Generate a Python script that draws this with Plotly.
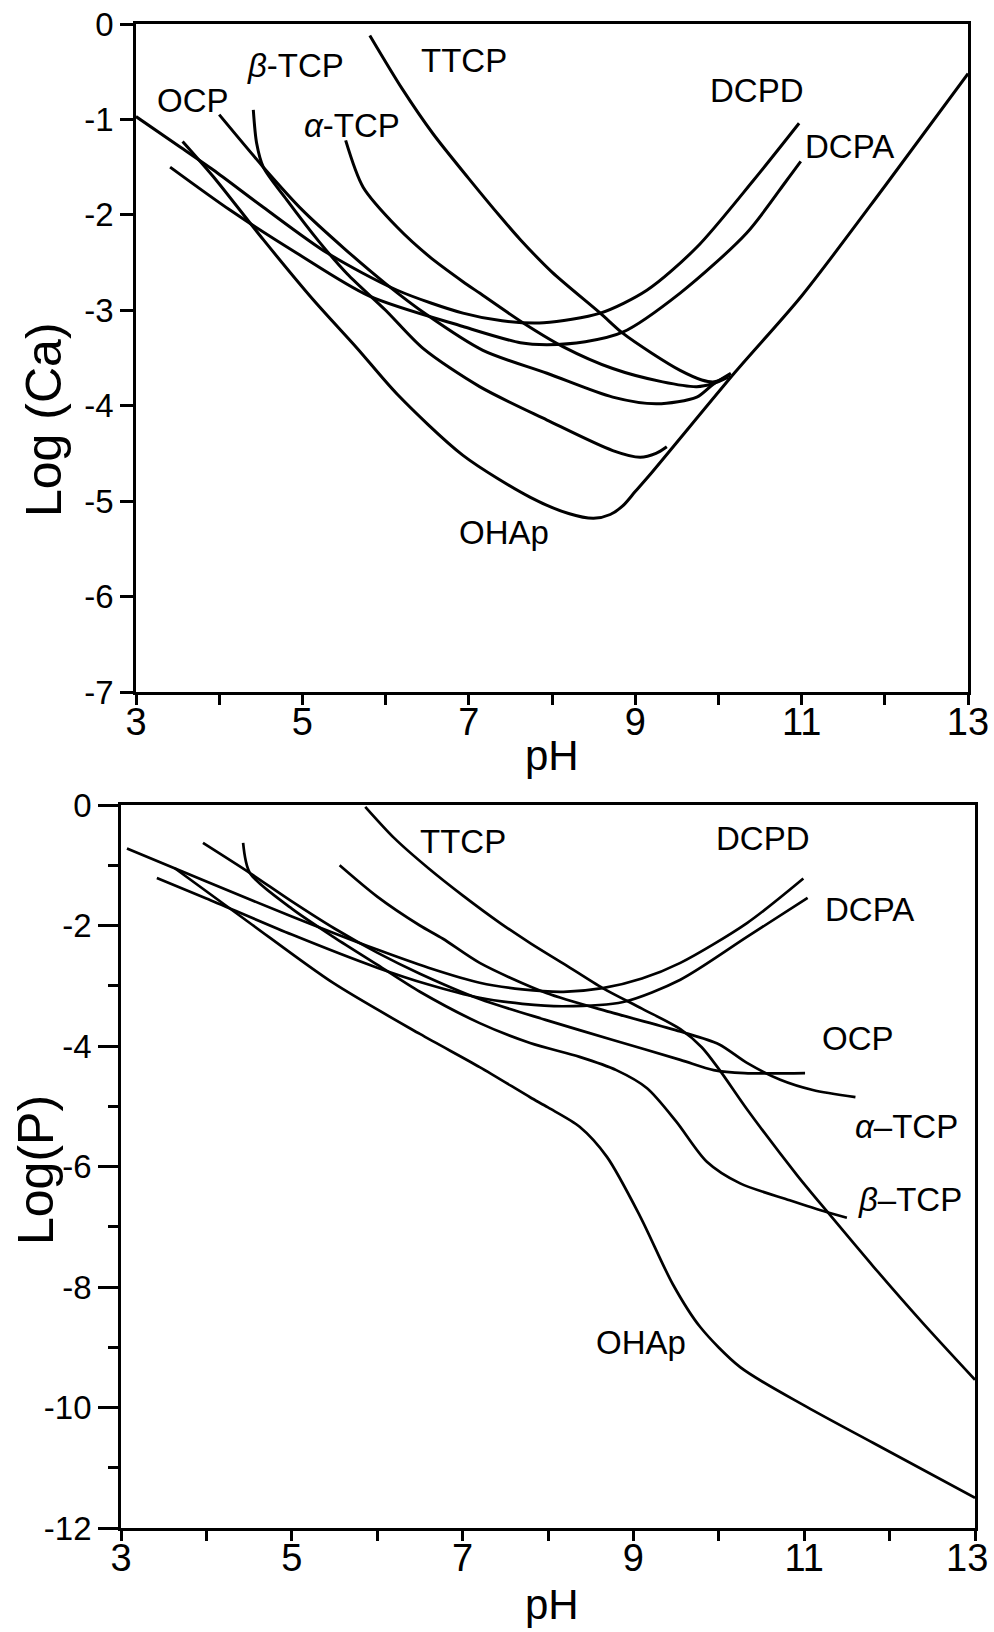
import plotly.graph_objects as go

# ---------------- Top panel: Log(Ca) vs pH ----------------
ca_ttcp_ph = [5.81, 6.2, 6.57, 7.0, 7.38, 7.62, 8.0, 8.58, 8.85, 9.2, 9.54, 9.8, 9.95, 10.14]
ca_ttcp_log = [-0.12, -0.68, -1.15, -1.62, -2.02, -2.26, -2.60, -3.03, -3.24, -3.45, -3.63, -3.73, -3.75, -3.68]

ca_dcpd_ph = [3.0, 3.5, 3.93, 4.53, 5.3, 6.14, 6.93, 7.4, 7.9, 8.58, 9.14, 9.74, 10.42, 10.97]
ca_dcpd_log = [-0.97, -1.27, -1.53, -1.92, -2.40, -2.79, -3.03, -3.11, -3.13, -3.03, -2.79, -2.34, -1.64, -1.04]

ca_dcpa_ph = [3.41, 4.13, 4.93, 5.8, 6.93, 7.62, 7.94, 8.4, 8.85, 9.54, 10.34, 10.82, 10.99]
ca_dcpa_log = [-1.50, -1.95, -2.40, -2.85, -3.17, -3.34, -3.36, -3.33, -3.23, -2.82, -2.19, -1.64, -1.44]

ca_ohap_ph = [3.56, 3.93, 4.53, 5.13, 5.66, 6.14, 6.93, 7.74, 8.2, 8.5, 8.7, 8.85, 9.0, 9.2, 10.2, 11.0, 12.0, 13.0]
ca_ohap_log = [-1.23, -1.60, -2.26, -2.89, -3.40, -3.88, -4.52, -4.96, -5.13, -5.18, -5.14, -5.05, -4.90, -4.70, -3.65, -2.85, -1.70, -0.52]

ca_ocp_ph = [4.0, 4.53, 5.0, 5.5, 6.0, 6.5, 7.17, 7.94, 8.73, 9.26, 9.74, 9.93, 10.15]
ca_ocp_log = [-0.95, -1.50, -1.95, -2.35, -2.72, -3.05, -3.42, -3.66, -3.91, -3.98, -3.91, -3.78, -3.66]

ca_atcp_ph = [5.52, 5.73, 6.14, 6.53, 6.93, 7.13, 7.65, 8.13, 8.73, 9.33, 9.74, 9.93, 10.12]
ca_atcp_log = [-1.22, -1.71, -2.13, -2.44, -2.70, -2.82, -3.13, -3.38, -3.61, -3.75, -3.80, -3.77, -3.70]

ca_btcp_ph = [4.41, 4.45, 4.53, 4.81, 5.2, 5.54, 6.0, 6.45, 7.13, 7.94, 8.73, 9.06, 9.25, 9.38]
ca_btcp_log = [-0.90, -1.25, -1.50, -1.84, -2.28, -2.62, -3.00, -3.40, -3.80, -4.15, -4.47, -4.54, -4.50, -4.43]

# ---------------- Bottom panel: Log(P) vs pH ----------------
p_ttcp_ph = [5.86, 6.2, 6.6, 7.0, 7.44, 7.8, 8.2, 8.64, 9.1, 9.55, 9.8, 10.01, 10.33, 10.92, 11.27, 11.81, 12.39, 13.0]
p_ttcp_log = [-0.03, -0.55, -1.05, -1.50, -1.96, -2.30, -2.65, -3.04, -3.38, -3.72, -4.02, -4.40, -5.05, -6.15, -6.75, -7.66, -8.60, -9.54]

p_dcpd_ph = [3.07, 4.0, 5.0, 6.0, 6.6, 7.2, 7.7, 8.18, 8.64, 9.1, 9.55, 10.33, 10.99]
p_dcpd_log = [-0.72, -1.27, -1.85, -2.40, -2.70, -2.95, -3.06, -3.10, -3.04, -2.88, -2.62, -1.96, -1.22]

p_dcpa_ph = [3.42, 4.0, 5.0, 6.0, 6.6, 7.2, 7.7, 8.18, 8.88, 9.55, 10.33, 11.04]
p_dcpa_log = [-1.21, -1.55, -2.15, -2.70, -2.98, -3.20, -3.30, -3.34, -3.27, -2.90, -2.19, -1.54]

p_ohap_ph = [3.63, 4.5, 5.48, 6.5, 7.2, 7.79, 8.0, 8.37, 8.69, 9.08, 9.46, 9.78, 10.25, 11.03, 11.81, 13.0]
p_ohap_log = [-1.05, -1.95, -2.95, -3.80, -4.35, -4.85, -5.02, -5.34, -5.84, -6.83, -7.95, -8.66, -9.33, -9.99, -10.59, -11.50]

p_ocp_ph = [3.96, 4.51, 5.0, 5.5, 6.0, 6.5, 7.2, 7.98, 8.76, 9.55, 9.94, 10.3, 11.01]
p_ocp_log = [-0.63, -1.13, -1.60, -2.05, -2.45, -2.80, -3.22, -3.57, -3.90, -4.23, -4.40, -4.45, -4.45]

p_atcp_ph = [5.56, 6.0, 6.5, 6.77, 7.2, 7.98, 8.76, 9.55, 10.0, 10.33, 10.72, 11.1, 11.6]
p_atcp_log = [-1.00, -1.52, -2.00, -2.22, -2.62, -3.12, -3.45, -3.76, -3.97, -4.28, -4.56, -4.73, -4.85]

p_btcp_ph = [4.43, 4.51, 5.0, 5.5, 6.0, 6.5, 7.2, 7.79, 8.37, 8.8, 9.16, 9.5, 9.86, 10.25, 10.83, 11.27, 11.5]
p_btcp_log = [-0.63, -1.13, -1.72, -2.20, -2.65, -3.10, -3.62, -3.95, -4.18, -4.40, -4.70, -5.25, -5.92, -6.28, -6.56, -6.76, -6.85]

x_ticks = list(range(3, 14))
x_ticktext = [str(v) if v % 2 == 1 else "" for v in x_ticks]
# bottom axis: the last label ("13") sits at the page edge, drawn separately
x2_ticktext = [t if v != 13 else "" for v, t in zip(x_ticks, x_ticktext)]
ca_yticks = list(range(-7, 1))
ca_yticktext = [str(v) for v in ca_yticks]
p_yticks = list(range(-12, 1, 2))
p_yticktext = [str(v) for v in p_yticks]

W, H = 994, 1632
fig = go.Figure()

top_curves = [(ca_ttcp_ph, ca_ttcp_log), (ca_dcpd_ph, ca_dcpd_log), (ca_dcpa_ph, ca_dcpa_log),
              (ca_ohap_ph, ca_ohap_log), (ca_ocp_ph, ca_ocp_log), (ca_atcp_ph, ca_atcp_log),
              (ca_btcp_ph, ca_btcp_log)]
bot_curves = [(p_ttcp_ph, p_ttcp_log), (p_dcpd_ph, p_dcpd_log), (p_dcpa_ph, p_dcpa_log),
              (p_ohap_ph, p_ohap_log), (p_ocp_ph, p_ocp_log), (p_atcp_ph, p_atcp_log),
              (p_btcp_ph, p_btcp_log)]

for xs, ys in top_curves:
    fig.add_trace(go.Scatter(x=xs, y=ys, mode="lines", xaxis="x", yaxis="y",
                             line=dict(color="black", width=3, shape="spline", smoothing=0.8),
                             showlegend=False, hoverinfo="skip"))
for xs, ys in bot_curves:
    fig.add_trace(go.Scatter(x=xs, y=ys, mode="lines", xaxis="x2", yaxis="y2",
                             line=dict(color="black", width=2.7, shape="spline", smoothing=0.8),
                             showlegend=False, hoverinfo="skip"))

tickfont_x = dict(family="Liberation Sans Narrow, Liberation Sans, sans-serif", size=38, color="black")
tickfont_y = dict(family="Liberation Sans, sans-serif", size=33, color="black")

axis_common = dict(showline=True, linecolor="black", linewidth=2.8, mirror=True,
                   ticks="outside", tickcolor="black", tickwidth=2.5,
                   showgrid=False, zeroline=False, automargin=False)

fig.update_layout(
    width=W, height=H, margin=dict(l=0, r=0, t=0, b=0, autoexpand=False),
    paper_bgcolor="white", plot_bgcolor="white",
    xaxis=dict(domain=[136 / W, 968 / W], range=[3, 13], anchor="y",
               tickvals=x_ticks, ticktext=x_ticktext, ticklen=10, tickfont=tickfont_x,
               ticklabelstandoff=-16, ticklabeloverflow="allow", **axis_common),
    yaxis=dict(domain=[1 - 692 / H, 1 - 24 / H], range=[-7, 0], anchor="x",
               tickvals=ca_yticks, ticktext=ca_yticktext, ticklen=13, tickfont=tickfont_y, **axis_common),
    xaxis2=dict(domain=[121 / W, 975 / W], range=[3, 13], anchor="y2",
                tickvals=x_ticks, ticktext=x2_ticktext, ticklen=10, tickfont=tickfont_x,
                ticklabelstandoff=-16, ticklabeloverflow="allow", **axis_common),
    yaxis2=dict(domain=[1 - 1528 / H, 1 - 805 / H], range=[-12, 0], anchor="x2",
                tickvals=p_yticks, ticktext=p_yticktext, ticklen=20, tickfont=tickfont_y,
                minor=dict(dtick=1, tick0=0, ticks="outside", ticklen=10, tickwidth=2.5, tickcolor="black"),
                **axis_common),
)

lab_font = dict(family="Liberation Sans, sans-serif", size=33, color="black")
top_labels = [("OCP", 3.69, -0.80), ("<i>β</i>-TCP", 4.92, -0.44), ("<i>α</i>-TCP", 5.6, -1.06),
              ("TTCP", 6.94, -0.38), ("DCPD", 10.46, -0.70), ("DCPA", 11.58, -1.28),
              ("OHAp", 7.42, -5.33)]
bot_labels = [("TTCP", 7.0, -0.61), ("DCPD", 10.52, -0.55), ("DCPA", 11.77, -1.73),
              ("OCP", 11.63, -3.87), ("<i>α</i>–TCP", 12.2, -5.33), ("<i>β</i>–TCP", 12.24, -6.54),
              ("OHAp", 9.09, -8.92)]
for t, x, y in top_labels:
    fig.add_annotation(text=t, x=x, y=y, xref="x", yref="y", showarrow=False, font=lab_font,
                       xanchor="center", yanchor="middle")
for t, x, y in bot_labels:
    fig.add_annotation(text=t, x=x, y=y, xref="x2", yref="y2", showarrow=False, font=lab_font,
                       xanchor="center", yanchor="middle")

# last bottom x tick label, kept inside the page
fig.add_annotation(text=str(x_ticks[-1]), x=990 / W, y=1 - 1558 / H, xref="paper", yref="paper",
                   showarrow=False, font=tickfont_x, xanchor="right", yanchor="middle")

title_font = dict(family="Liberation Sans, sans-serif", size=50, color="black")
ph_font = dict(family="Liberation Sans, sans-serif", size=42, color="black")
fig.add_annotation(text="Log (Ca)", x=44 / W, y=1 - 420 / H, xref="paper", yref="paper",
                   showarrow=False, textangle=-90, font=title_font, xanchor="center", yanchor="middle")
fig.add_annotation(text="pH", x=552 / W, y=1 - 755 / H, xref="paper", yref="paper",
                   showarrow=False, font=ph_font, xanchor="center", yanchor="middle")
fig.add_annotation(text="Log(P)", x=36 / W, y=1 - 1170 / H, xref="paper", yref="paper",
                   showarrow=False, textangle=-90, font=title_font, xanchor="center", yanchor="middle")
fig.add_annotation(text="pH", x=552 / W, y=1 - 1604 / H, xref="paper", yref="paper",
                   showarrow=False, font=ph_font, xanchor="center", yanchor="middle")

fig.write_html("out.html", config={"displayModeBar": False},
               post_script="document.body.style.margin='0px';document.body.style.padding='0px';"
                           "document.body.style.overflow='hidden';")
